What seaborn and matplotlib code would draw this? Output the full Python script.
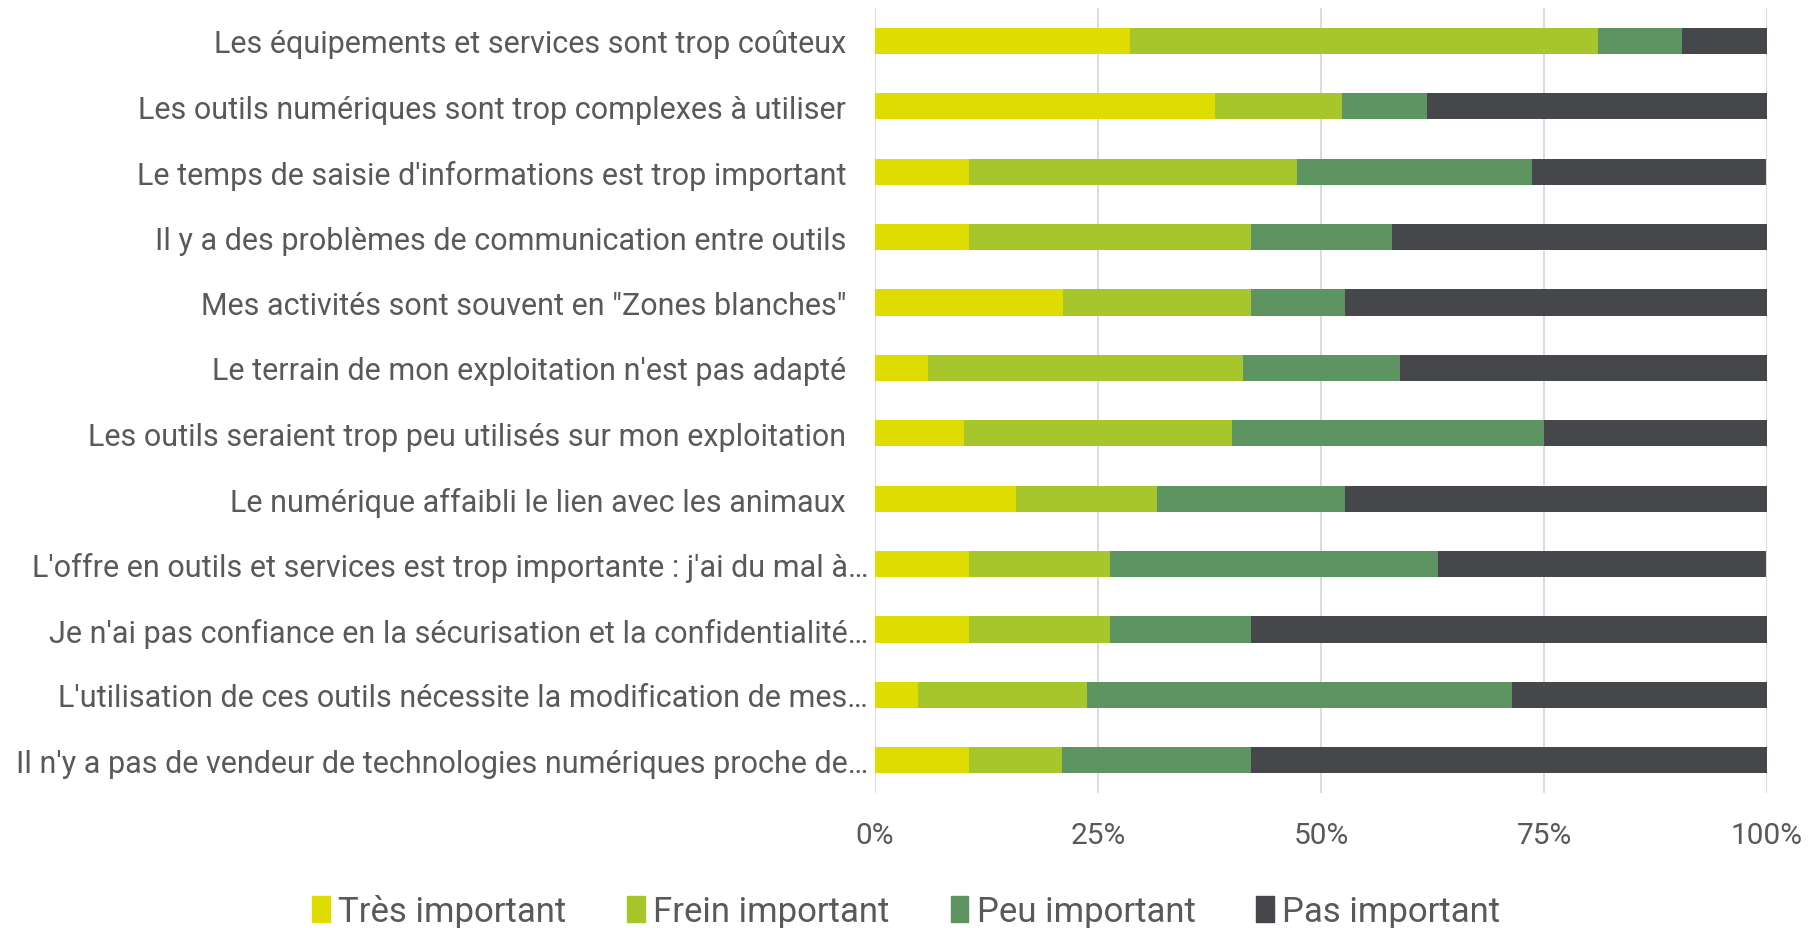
import matplotlib
matplotlib.use("Agg")
import matplotlib.pyplot as plt
import matplotlib.patches as mpatches
from matplotlib.ticker import PercentFormatter
from matplotlib.transforms import ScaledTranslation
import seaborn as sns
import numpy as np
import pandas as pd

categories = [
    "Les équipements et services sont trop coûteux",
    "Les outils numériques sont trop complexes à utiliser",
    "Le temps de saisie d'informations est trop important",
    "Il y a des problèmes de communication entre outils",
    "Mes activités sont souvent en \"Zones blanches\"",
    "Le terrain de mon exploitation n'est pas adapté",
    "Les outils seraient trop peu utilisés sur mon exploitation",
    "Le numérique affaibli le lien avec les animaux",
    "L'offre en outils et services est trop importante : j'ai du mal à…",
    "Je n'ai pas confiance en la sécurisation et la confidentialité…",
    "L'utilisation de ces outils nécessite la modification de mes…",
    "Il n'y a pas de vendeur de technologies numériques proche de…",
]
series_names = ["Très important", "Frein important", "Peu important", "Pas important"]
tres_important = [28.6, 38.1, 10.5, 10.5, 21.1, 5.9, 10.0, 15.8, 10.5, 10.5, 4.8, 10.5]
frein_important = [52.4, 14.3, 36.8, 31.6, 21.1, 35.3, 30.0, 15.8, 15.8, 15.8, 19.0, 10.5]
peu_important = [9.5, 9.5, 26.3, 15.8, 10.5, 17.6, 35.0, 21.1, 36.8, 15.8, 47.6, 21.1]
pas_important = [9.5, 38.1, 26.3, 42.1, 47.4, 41.2, 25.0, 47.4, 36.8, 57.9, 28.6, 57.9]
x_ticks = [0, 25, 50, 75, 100]

colors = ["#DEDC00", "#A6C62C", "#5E9462", "#46474B"]
text_color = "#595959"

sns.set_theme(style="white")
plt.rcParams['font.family'] = ['Roboto', 'DejaVu Sans']

df = pd.DataFrame({
    "cat": categories,
    series_names[0]: tres_important,
    series_names[1]: frein_important,
    series_names[2]: peu_important,
    series_names[3]: pas_important,
})
vals = df[series_names].to_numpy()
cum = np.cumsum(vals, axis=1)

fig = plt.figure(figsize=(18.2, 9.29), dpi=100)
ax = fig.add_axes([0.4808, 0.1453, 0.4901, 0.8447])

for i in range(3, -1, -1):
    d = pd.DataFrame({"cat": categories, "v": cum[:, i]})
    sns.barplot(data=d, x="v", y="cat", color=colors[i], width=0.4,
                orient="h", ax=ax, saturation=1, edgecolor="none", zorder=3)

ax.set_xlim(0, 100)
ax.set_xticks(x_ticks)
ax.xaxis.set_major_formatter(PercentFormatter(decimals=0))
ax.grid(axis="x", color="#D9D9D9", linewidth=1.3, zorder=0)
ax.set_axisbelow(True)
for s in ax.spines.values():
    s.set_visible(False)
ax.set_xlabel("")
ax.set_ylabel("")
ax.tick_params(axis="y", length=0, pad=5, labelsize=22, labelcolor=text_color)
ax.tick_params(axis="x", length=0, pad=20, labelsize=21.5, labelcolor=text_color)

# normal labels sit a bit further from the axis than the truncated ones
for lab in ax.get_yticklabels():
    if not lab.get_text().endswith("…"):
        lab.set_transform(lab.get_transform() + ScaledTranslation(-0.22, 0, fig.dpi_scale_trans))

handles = [mpatches.Patch(color=c, label=n) for c, n in zip(colors, series_names)]
fig.legend(handles=handles, loc="center", bbox_to_anchor=(0.498, 0.018),
           ncol=4, frameon=False, fontsize=25, labelcolor=text_color,
           handlelength=0.5, handleheight=0.75, handletextpad=0.25, columnspacing=1.75)

fig.savefig("out.png", dpi=100)
